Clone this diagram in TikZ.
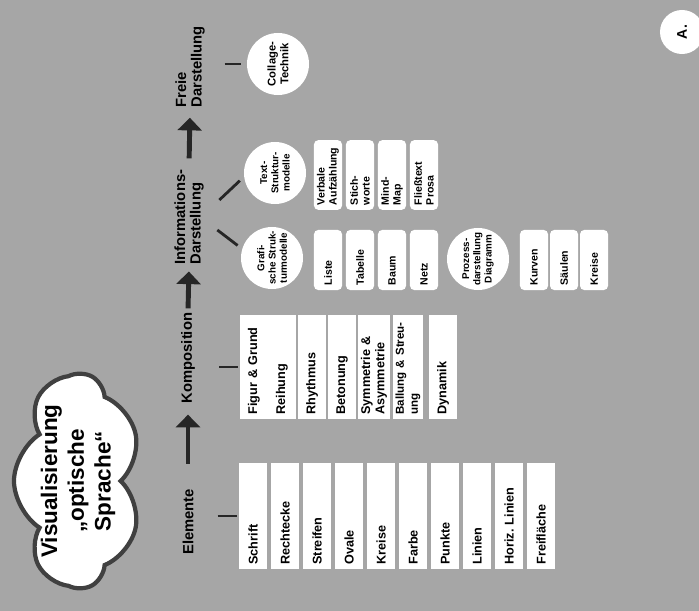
\documentclass[tikz,border=0pt]{standalone}
\usepackage{fontspec}
\setmainfont{Liberation Sans}
\usetikzlibrary{shapes.symbols, shapes.geometric, arrows.meta, positioning, calc}

\begin{document}
\begin{tikzpicture}[x=0.025cm, y=-0.025cm,
  lbl/.style={rotate=90, font=\fontsize{10.5}{11}\selectfont\bfseries, align=left, inner sep=1pt},
  ebox/.style={rectangle, fill=white, rotate=90, font=\fontsize{9}{10}\selectfont\bfseries\frenchspacing,
               align=left, text width=#1, inner xsep=0.12cm, inner ysep=2pt, minimum height=0.7cm},
  cbox/.style={ebox=#1, rounded corners=3pt, inner xsep=0.12cm, font=\fontsize{7.5}{8.5}\selectfont\bfseries},
  bub/.style={circle, fill=white, rotate=90, font=\fontsize{7}{8}\selectfont\bfseries,
              align=center, inner sep=0pt, minimum size=1.55cm},
  link/.style={line width=2pt, black!85},
  flow/.style={-{Triangle[width=17pt, length=9pt]}, line width=3.5pt, black!85}
]
  \useasboundingbox (0,0) rectangle (699,611);
  % background
  \fill[black!35] (0,0) rectangle (699,611);

  % title cloud
  \node[cloud, cloud puffs=7, cloud puff arc=115, draw=black!75, line width=3pt, fill=white, rotate=90,
        minimum width=5.35cm, minimum height=3.2cm, inner sep=0pt] (cl) at (78,481) {};
  \node[rotate=90, align=center, font=\fontsize{16}{19}\selectfont\bfseries] (vis) at (cl)
        {Visualisierung\\„optische\\Sprache“};

  % main row
  \node[lbl] (elem) at (188,522) {Elemente};
  \node[lbl] (komp) at (188,358) {Komposition};
  \node[lbl] (info) at (189,217) {Informations-\\Darstellung};
  \node[lbl] (frei) at (190,67)  {Freie\\Darstellung};

  \draw[flow, shorten <=17pt, shorten >=7pt] (elem.east) -- (komp.west);
  \draw[flow, shorten <=2pt,  shorten >=4pt] (komp.east) -- (info.west);
  \draw[flow, shorten <=7pt,  shorten >=6pt] (info.east) -- (frei.west);

  % Elemente
  \foreach \t [count=\i] in {Schrift, Rechtecke, Streifen, Ovale, Kreise, Farbe, Punkte, Linien, Horiz. Linien, Freifläche}
    \node[ebox=2.43cm] (e\i) at ({221+32*\i},516) {\t};

  % Komposition
  \foreach \x/\t [count=\i] in {254/{Figur \& Grund}, 282/Reihung, 312/Rhythmus, 342/Betonung,
      374/{Symmetrie \&\\Asymmetrie}, 408/{\fontsize{8.2}{10}\selectfont Ballung \& Streu-\\ung}, 443/Dynamik}
    \node[ebox=2.38cm] (k\i) at (\x,367) {\t};

  % Informations-Darstellung
  \node[bub] (txt)  at (275,173) {Text-\\Struktur-\\modelle};
  \node[bub] (graf) at (272,258) {Grafi-\\sche Struk-\\turmodelle};
  \node[bub] (proz) at (478,259) {Prozess-\\darstellung\\Diagramm};

  \foreach \t [count=\i] in {{Verbale\\Aufzählung}, {Stich-\\worte}, {Mind-\\Map}, {Fließtext\\Prosa}}
    \node[cbox=1.5cm] (t\i) at ({296+32*\i},175) {\t};
  \foreach \t [count=\i] in {Liste, Tabelle, Baum, Netz}
    \node[cbox=1.26cm] (g\i) at ({296+32*\i},260) {\t};
  \foreach \t [count=\i] in {Kurven, Säulen, Kreise}
    \node[cbox=1.26cm] (d\i) at ({504+30*\i},260) {\t};

  % Freie Darstellung
  \node[bub, font=\fontsize{8}{9}\selectfont\bfseries] (col) at (278,64) {Collage-\\Technik};

  % corner mark
  \node[bub, minimum size=1.1cm, font=\fontsize{10}{11}\selectfont\bfseries] (pg) at (682,32) {A.};

  % connectors
  \draw[link, shorten <=16pt, shorten >=1pt] (e1.north -| elem.south) -- (e1.north);
  \draw[link, shorten <=16pt, shorten >=1pt] (k1.north -| komp.south) -- (k1.north);
  \draw[link, shorten <=13pt, shorten >=4pt] (col.north -| frei.south) -- (col.north);
  \draw[link, shorten >=4pt] ($(info.south)+(14,-17)$) -- (txt.97);
  \draw[link, shorten >=4pt] ($(info.south)+(12,13)$) -- (graf.73);
\end{tikzpicture}
\end{document}
